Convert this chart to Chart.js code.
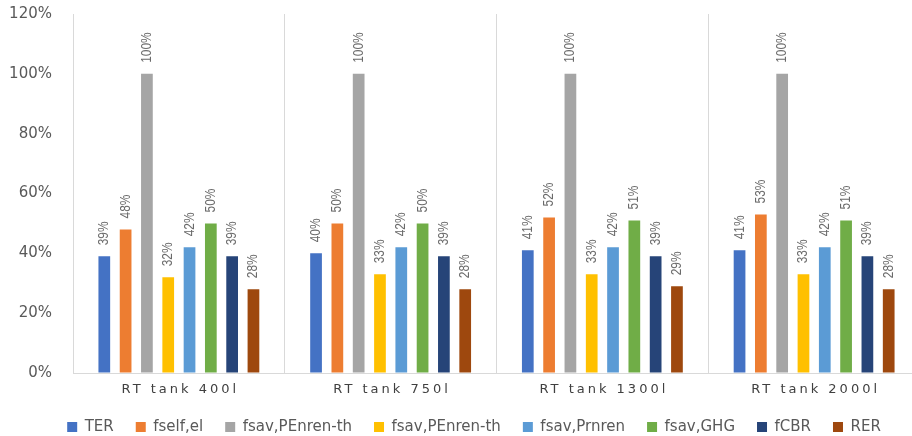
<!DOCTYPE html>
<html>
<head>
<meta charset="utf-8">
<script src="https://cdn.jsdelivr.net/npm/chart.js"></script>
<style>
  html, body { margin: 0; padding: 0; background: #fff; overflow: hidden; }
  #wrap { width: 922px; height: 436px; }
</style>
</head>
<body>
<div id="wrap"><canvas id="barChart"></canvas></div>

<script>

const categories = ['RT tank 400l', 'RT tank 750l', 'RT tank 1300l', 'RT tank 2000l'];

const seriesNames = ['TER', 'fself,el', 'fsav,PEnren-th', 'fsav,PEnren-th', 'fsav,Prnren', 'fsav,GHG', 'fCBR', 'RER'];

const ter      = [39, 40, 41, 41];
const fselfEl  = [48, 50, 52, 53];
const fsavPeA  = [100, 100, 100, 100];
const fsavPeB  = [32, 33, 33, 33];
const fsavPr   = [42, 42, 42, 42];
const fsavGhg  = [50, 50, 51, 51];
const fcbr     = [39, 39, 39, 39];
const rer      = [28, 28, 29, 28];

const yTicks = [0, 20, 40, 60, 80, 100, 120];

const colors = ['#4472C4', '#ED7D31', '#A5A5A5', '#FFC000', '#5B9BD5', '#70AD47', '#264478', '#9E480E'];

const seriesData = [ter, fselfEl, fsavPeA, fsavPeB, fsavPr, fsavGhg, fcbr, rer];

// value labels, written upwards above each bar (narrowed)
const barLabels = {
    id: 'barLabels',
    afterDatasetsDraw(chart) {
        const ctx = chart.ctx;
        ctx.save();
        ctx.fillStyle = '#6a6a6a';
        ctx.font = '14.5px "Liberation Sans", sans-serif';
        ctx.textAlign = 'left';
        ctx.textBaseline = 'middle';
        chart.data.datasets.forEach((ds, i) => {
            const meta = chart.getDatasetMeta(i);
            meta.data.forEach((bar, j) => {
                ctx.save();
                ctx.translate(bar.x, bar.y - 11);
                ctx.rotate(-Math.PI / 2);
                ctx.scale(0.82, 1);
                ctx.fillText(ds.data[j] + '%', 0, 0);
                ctx.restore();
            });
        });
        ctx.restore();
    }
};

// category names under the axis, spaced out
const catLabels = {
    id: 'catLabels',
    afterDraw(chart) {
        const ctx = chart.ctx;
        const xs = chart.scales.x;
        ctx.save();
        ctx.fillStyle = '#404040';
        ctx.font = '13px "DejaVu Sans", sans-serif';
        ctx.letterSpacing = '3px';
        ctx.textAlign = 'center';
        ctx.textBaseline = 'middle';
        chart.data.labels.forEach((lab, i) => {
            ctx.fillText(lab, xs.getPixelForValue(i) + 1.5, xs.top + 17);
        });
        ctx.restore();
    }
};

// put the legend row where the original has it
const legendShift = {
    id: 'legendShift',
    afterLayout(chart) {
        const lg = chart.legend;
        const dx = 474 - (lg.left + lg.right) / 2;
        const dy = 426 - (lg.top + lg.bottom) / 2 - 5;
        lg.left += dx; lg.right += dx;
        lg.top += dy; lg.bottom += dy;
    }
};

new Chart(document.getElementById('barChart'), {

    type: 'bar',

    data: {
        labels: categories,
        datasets: seriesData.map((d, i) => ({
            label: seriesNames[i],
            data: d,
            backgroundColor: colors[i],
            categoryPercentage: 0.805,
            barPercentage: 0.55
        }))
    },

    options: {
        responsive: true,
        maintainAspectRatio: false,
        animation: false,
        layout: {
            padding: { top: 14, right: 2, bottom: 0, left: 0 }
        },
        plugins: {
            legend: {
                position: 'bottom',
                labels: {
                    boxWidth: 10,
                    boxHeight: 10,
                    padding: 22,
                    color: '#595959',
                    font: { family: '"DejaVu Sans", sans-serif', size: 15 }
                }
            },
            tooltip: { enabled: false }
        },
        scales: {
            x: {
                grid: {
                    display: true,
                    offset: true,
                    color: '#d9d9d9',
                    drawTicks: false
                },
                border: { color: '#d9d9d9' },
                ticks: { display: false },
                afterFit: s => { s.height = 16; }
            },
            y: {
                min: 0,
                max: 120,
                afterBuildTicks: s => { s.ticks = yTicks.map(v => ({ value: v })); },
                grid: {
                    display: true,
                    color: 'transparent',
                    drawTicks: true,
                    tickLength: 18
                },
                border: { display: false },
                ticks: {
                    padding: 3,
                    color: '#595959',
                    font: { family: '"DejaVu Sans", sans-serif', size: 15 },
                    callback: v => v + '%'
                },
                afterFit: s => { s.width = 73; }
            }
        }
    },

    plugins: [barLabels, catLabels, legendShift]

});

</script>
</body>
</html>
